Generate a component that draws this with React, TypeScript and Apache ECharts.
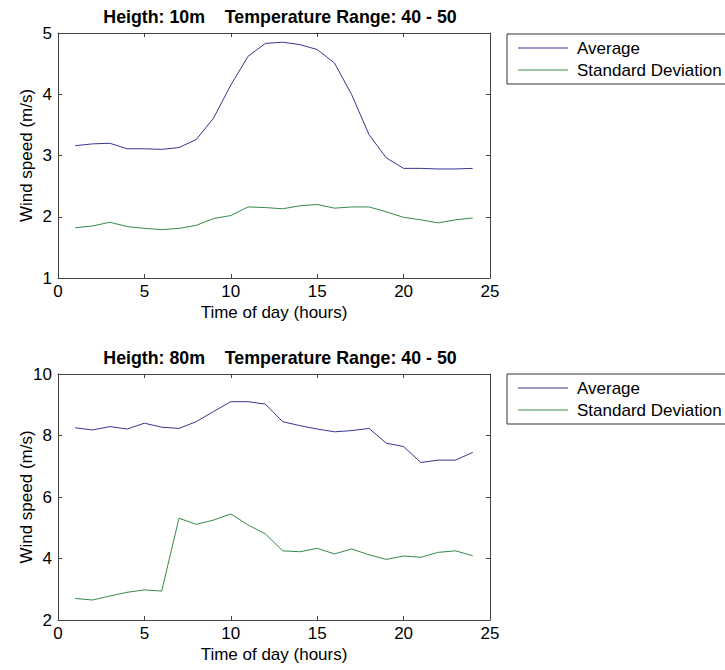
import React, { useEffect, useRef } from "react";
import * as echarts from "echarts";

const hours = [1,2,3,4,5,6,7,8,9,10,11,12,13,14,15,16,17,18,19,20,21,22,23,24];
const avg10 = [3.16,3.19,3.20,3.11,3.11,3.10,3.13,3.26,3.61,4.15,4.62,4.83,4.85,4.81,4.73,4.51,3.99,3.34,2.96,2.79,2.79,2.78,2.78,2.79];
const std10 = [1.82,1.85,1.91,1.84,1.81,1.79,1.81,1.86,1.97,2.02,2.16,2.15,2.13,2.18,2.20,2.14,2.16,2.16,2.08,1.99,1.95,1.90,1.95,1.98];
const avg80 = [8.25,8.18,8.29,8.21,8.40,8.27,8.23,8.45,8.78,9.10,9.10,9.02,8.45,8.32,8.21,8.12,8.16,8.23,7.75,7.64,7.12,7.20,7.20,7.45];
const std80 = [2.70,2.65,2.78,2.90,2.98,2.94,5.31,5.11,5.25,5.45,5.09,4.80,4.25,4.22,4.33,4.15,4.31,4.12,3.97,4.08,4.04,4.20,4.25,4.09];
const titles = ["Heigth: 10m    Temperature Range: 40 - 50", "Heigth: 80m    Temperature Range: 40 - 50"];
const seriesNames = ["Average", "Standard Deviation"];
const xTicks = { min: 0, max: 25, interval: 5 };
const yTicks = [{ min: 1, max: 5, interval: 1 }, { min: 2, max: 10, interval: 2 }];

const FONT = "Liberation Sans, Arial, sans-serif";
const AXIS_COLOR = "#444";
const BLUE = "#36368f";
const GREEN = "#368a46";

export default function App() {
  const ref = useRef<HTMLDivElement>(null);
  useEffect(() => {
    document.body.style.margin = "0";
    if (!ref.current) return;
    const chart = echarts.init(ref.current, undefined, { renderer: "svg" });
    const grids = [
      { left: 58, top: 33, width: 432, height: 245 },
      { left: 58, top: 374, width: 432, height: 246 },
    ];
    const xAxes: any[] = [];
    const yAxes: any[] = [];
    grids.forEach((_, i) => {
      const base = {
        type: "value",
        gridIndex: i,
        min: xTicks.min,
        max: xTicks.max,
        interval: xTicks.interval,
        splitLine: { show: false },
        axisLine: { show: true, onZero: false, lineStyle: { color: AXIS_COLOR, width: 1 } },
        axisTick: { show: true, inside: true, length: 4, lineStyle: { color: AXIS_COLOR } },
      };
      xAxes.push({
        ...base,
        position: "bottom",
        name: "Time of day (hours)",
        nameLocation: "middle",
        nameGap: 26,
        nameTextStyle: { fontFamily: FONT, fontSize: 17, color: "#000", verticalAlign: "top" },
        axisLabel: { show: true, fontFamily: FONT, fontSize: 17, color: "#000", margin: 5 },
      });
      xAxes.push({ ...base, position: "top", axisLabel: { show: false } });
      const yb = {
        type: "value",
        gridIndex: i,
        min: yTicks[i].min,
        max: yTicks[i].max,
        interval: yTicks[i].interval,
        splitLine: { show: false },
        axisLine: { show: true, onZero: false, lineStyle: { color: AXIS_COLOR, width: 1 } },
        axisTick: { show: true, inside: true, length: 4, lineStyle: { color: AXIS_COLOR } },
      };
      yAxes.push({
        ...yb,
        position: "left",
        name: "Wind speed (m/s)",
        nameLocation: "middle",
        nameGap: 23,
        nameMoveOverlap: false,
        nameTextStyle: { fontFamily: FONT, fontSize: 17, color: "#000" },
        axisLabel: { show: true, fontFamily: FONT, fontSize: 17, color: "#000", margin: 6 },
      });
      yAxes.push({ ...yb, position: "right", axisLabel: { show: false } });
    });
    const mk = (name: string, data: number[], color: string, gi: number) => ({
      type: "line",
      name,
      xAxisIndex: gi * 2,
      yAxisIndex: gi * 2,
      data: hours.map((h, k) => [h, data[k]]),
      symbol: "none",
      showSymbol: false,
      lineStyle: { color, width: 1 },
      itemStyle: { color },
      color,
    });
    const legendBase = {
      data: seriesNames,
      orient: "vertical",
      left: 507,
      icon: "path://M0,0H50V1H0Z",
      itemWidth: 50,
      itemHeight: 1,
      itemGap: 2,
      borderColor: "#333",
      borderWidth: 1,
      padding: [4, 30, 4, 11],
      textStyle: { fontFamily: FONT, fontSize: 17, lineHeight: 20, color: "#000", padding: [0, 0, 0, 4] },
      selectedMode: false,
    };
    chart.setOption({
      animation: false,
      backgroundColor: "#fff",
      title: titles.map((t, i) => ({
        text: t,
        left: 275,
        textAlign: "center",
        top: i === 0 ? 3 : 344,
        textStyle: { fontFamily: FONT, fontSize: 17.8, fontWeight: "bold", color: "#000" },
      })),
      legend: [
        { ...legendBase, top: 34 },
        { ...legendBase, top: 374 },
      ],
      grid: grids,
      xAxis: xAxes,
      yAxis: yAxes,
      series: [
        mk(seriesNames[0], avg10, BLUE, 0),
        mk(seriesNames[1], std10, GREEN, 0),
        mk(seriesNames[0], avg80, BLUE, 1),
        mk(seriesNames[1], std80, GREEN, 1),
      ],
    });
    return () => chart.dispose();
  }, []);
  return <div ref={ref} style={{ width: 725, height: 670 }} />;
}
